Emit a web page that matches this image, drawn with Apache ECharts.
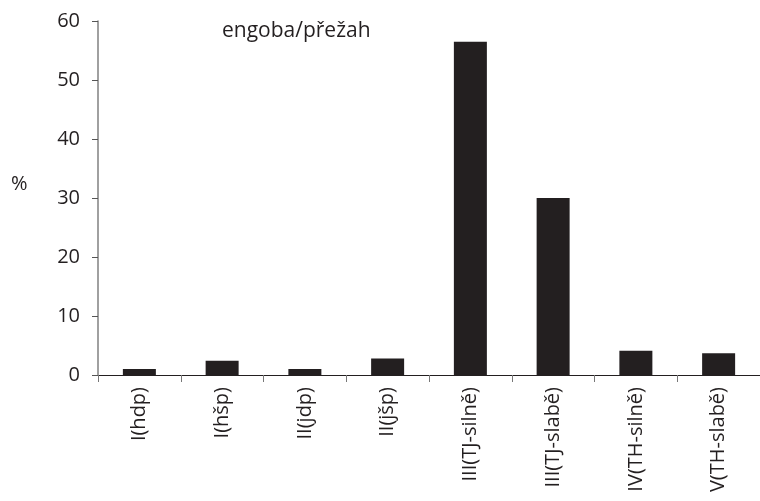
<!DOCTYPE html>
<html>
<head>
<meta charset="utf-8">
<script src="https://cdn.jsdelivr.net/npm/echarts@6/dist/echarts.min.js"></script>
<style>html,body{margin:0;padding:0;background:#fff;}#c{width:760px;height:501px;}</style>
</head>
<body>
<div id="c"></div>
<script>
const categories = ['I(hdp)', 'I(hšp)', 'II(jdp)', 'II(jšp)', 'III(TJ-silně)', 'III(TJ-slabě)', 'IV(TH-silně)', 'V(TH-slabě)'];
const values = [1.0, 2.4, 1.0, 2.8, 56.5, 30.0, 4.1, 3.7];
const yTicks = [0, 10, 20, 30, 40, 50, 60];
const titleText = 'engoba/přežah';
const yName = '%';

const FONT = '"Open Sans"';
const TXT = '#231f20';
const chart = echarts.init(document.getElementById('c'), null, {renderer: 'canvas'});
chart.setOption({
  backgroundColor: '#fff',
  animation: false,
  textStyle: {fontFamily: FONT},
  graphic: [
    {type: 'text', left: 222, top: 21, style: {text: titleText, font: '21px ' + FONT, fill: TXT}},
    {type: 'text', left: 11, top: 174, style: {text: yName, font: '20px ' + FONT, fill: TXT}}
  ],
  grid: {left: 98, right: -5, top: 21, bottom: 126, containLabel: false},
  xAxis: {
    type: 'category',
    data: categories,
    axisLine: {lineStyle: {color: '#231f20', width: 1}},
    axisTick: {show: true, alignWithLabel: false, length: 7, lineStyle: {color: '#777'}},
    axisLabel: {rotate: 90, fontSize: 20, color: TXT, fontFamily: FONT, margin: 12, interval: 0}
  },
  yAxis: {
    type: 'value',
    min: yTicks[0], max: yTicks[yTicks.length - 1], interval: 10,
    axisLine: {show: true, lineStyle: {color: '#808080', width: 1.5}},
    axisTick: {show: true, length: 6, lineStyle: {color: '#555'}},
    splitLine: {show: false},
    axisLabel: {fontSize: 20, color: TXT, fontFamily: FONT, margin: 18}
  },
  series: [{
    type: 'bar',
    data: values,
    barWidth: 33,
    itemStyle: {color: '#231f20'}
  }]
});
</script>
</body>
</html>
